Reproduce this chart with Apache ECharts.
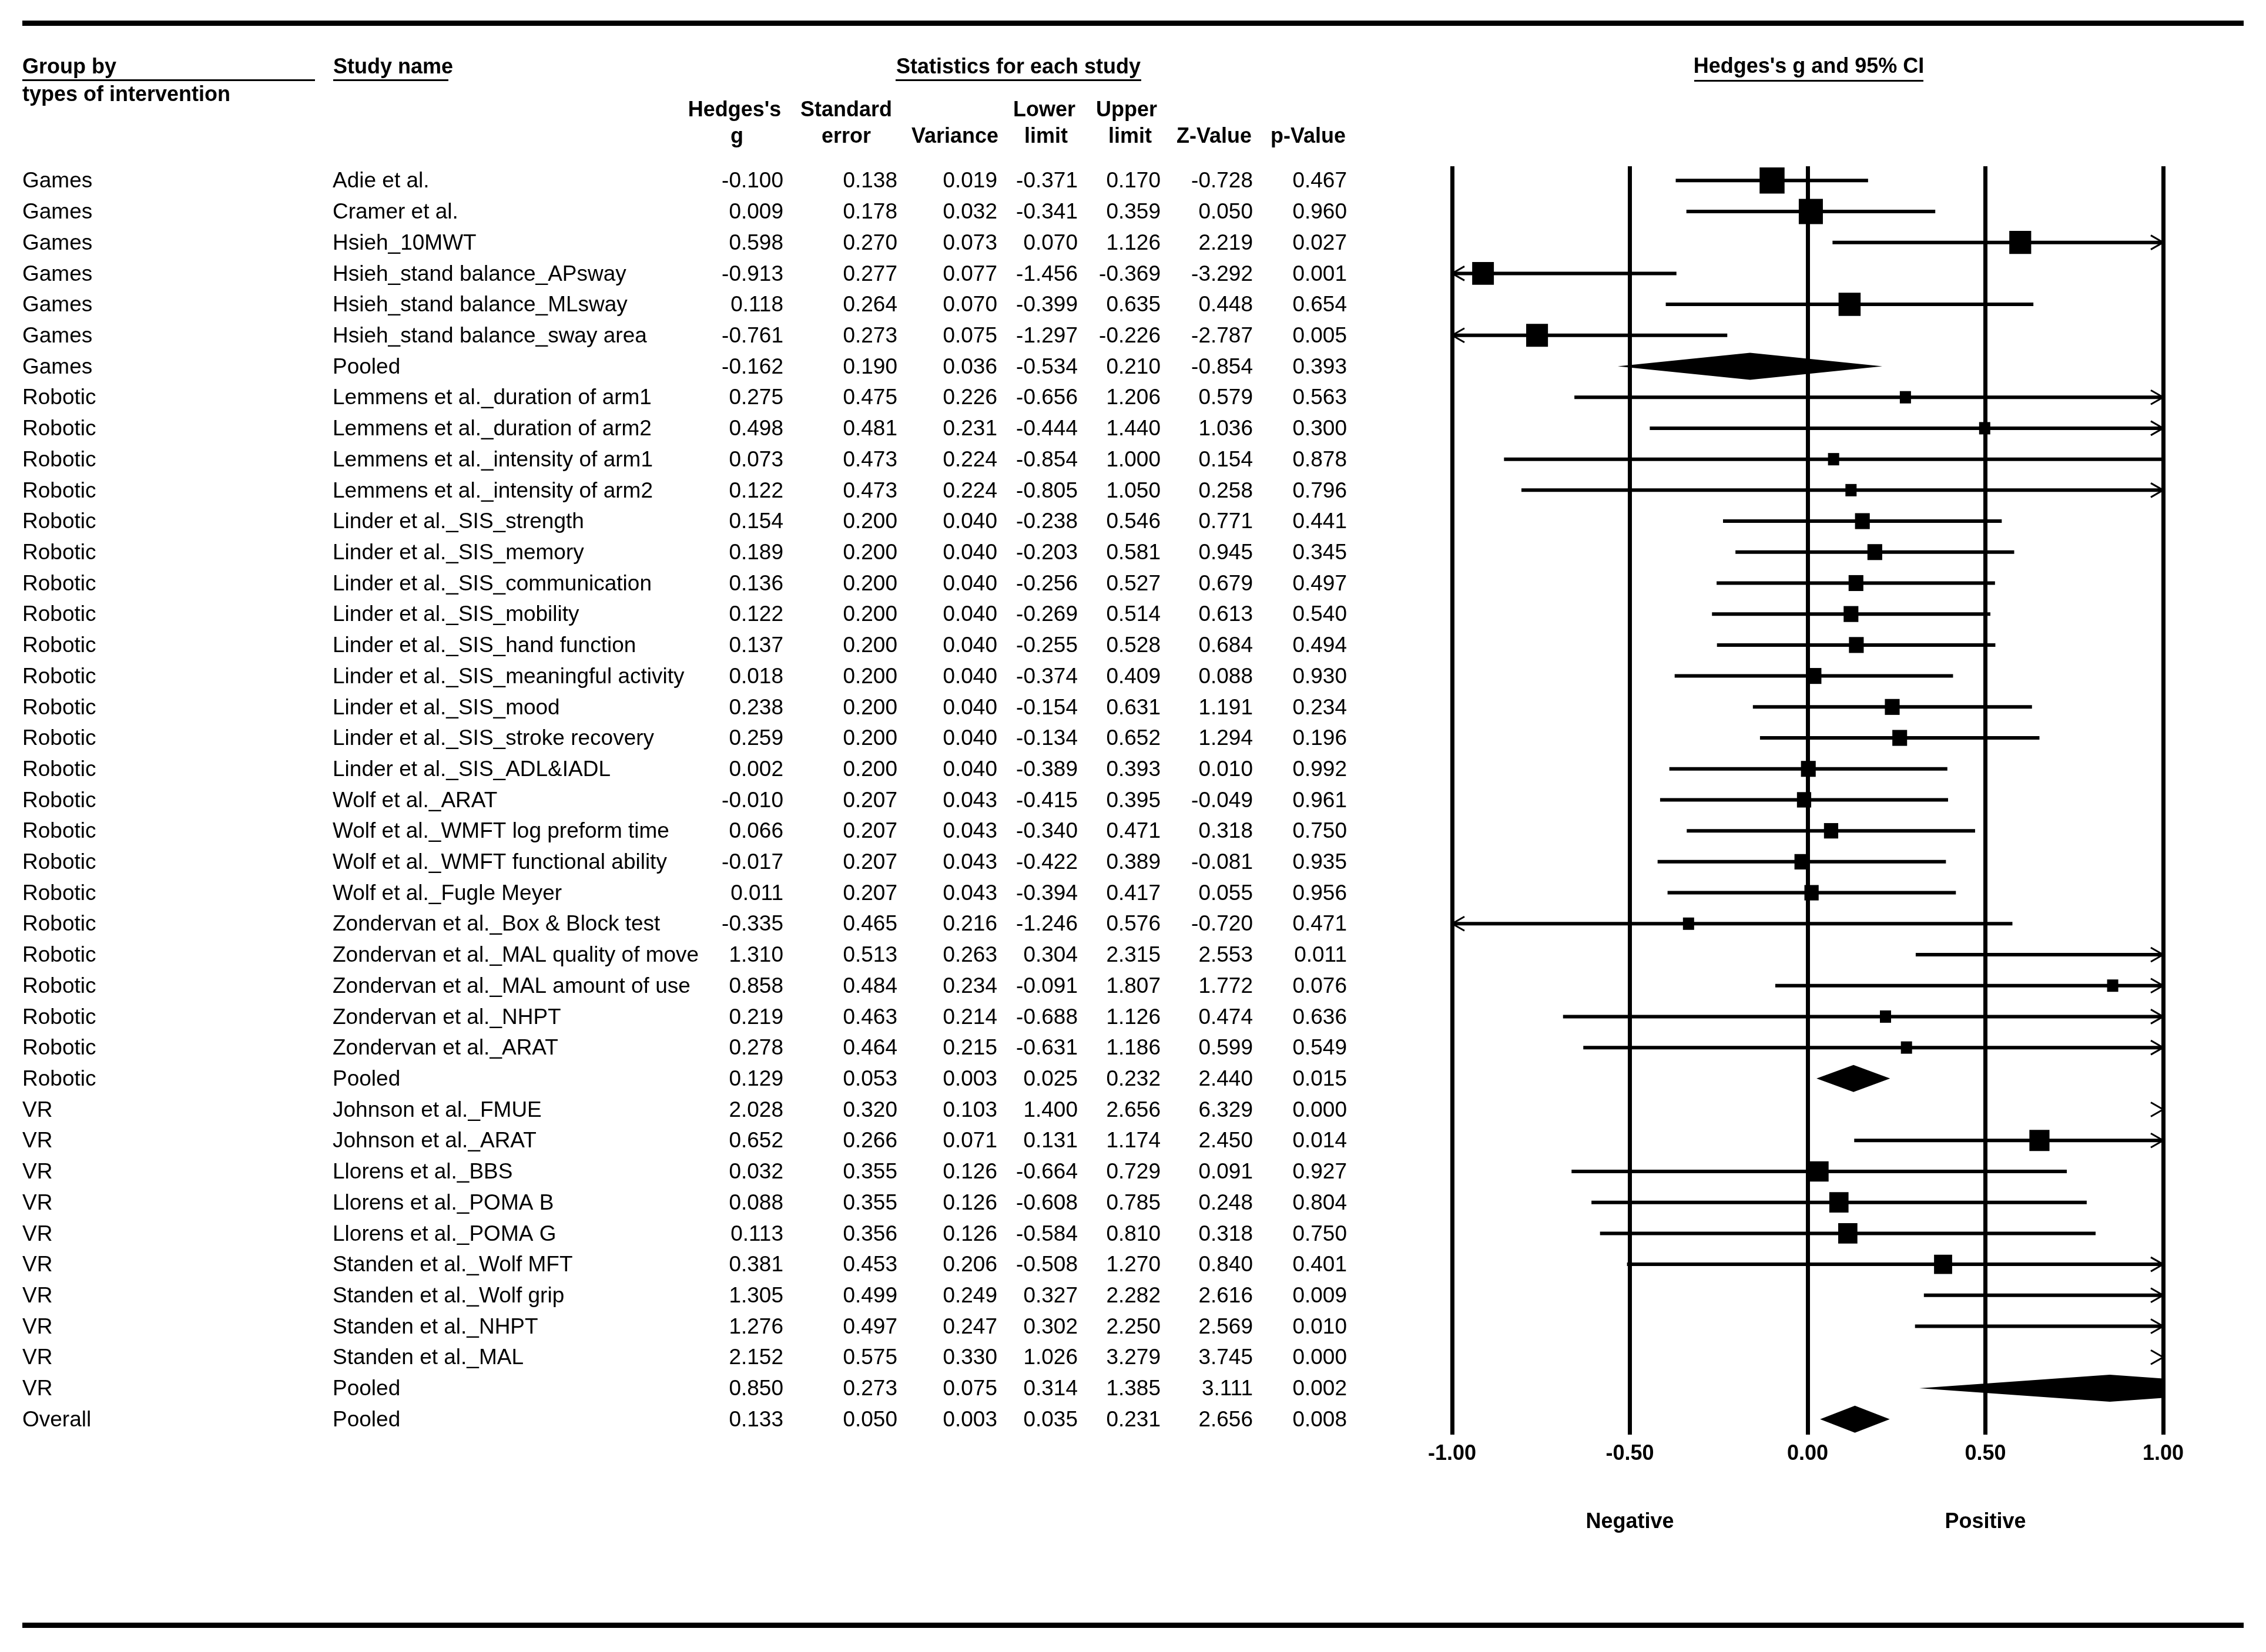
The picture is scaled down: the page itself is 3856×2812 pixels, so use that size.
<!DOCTYPE html>
<html><head><meta charset="utf-8">
<script src="https://cdn.jsdelivr.net/npm/echarts@6/dist/echarts.min.js"></script>
<style>html,body{margin:0;padding:0;background:#fff}#c{width:3856px;height:2812px}</style>
</head><body><div id="c"></div>
<script>
// ---------------- DATA ----------------
const groups = [
  'Games','Games','Games','Games','Games','Games','Games',
  'Robotic','Robotic','Robotic','Robotic','Robotic','Robotic','Robotic','Robotic','Robotic','Robotic','Robotic','Robotic','Robotic',
  'Robotic','Robotic','Robotic','Robotic','Robotic','Robotic','Robotic','Robotic','Robotic','Robotic',
  'VR','VR','VR','VR','VR','VR','VR','VR','VR','VR',
  'Overall'
];
const studies = [
  'Adie et al.','Cramer et al.','Hsieh_10MWT','Hsieh_stand balance_APsway','Hsieh_stand balance_MLsway','Hsieh_stand balance_sway area','Pooled',
  'Lemmens et al._duration of arm1','Lemmens et al._duration of arm2','Lemmens et al._intensity of arm1','Lemmens et al._intensity of arm2',
  'Linder et al._SIS_strength','Linder et al._SIS_memory','Linder et al._SIS_communication','Linder et al._SIS_mobility','Linder et al._SIS_hand function','Linder et al._SIS_meaningful activity','Linder et al._SIS_mood','Linder et al._SIS_stroke recovery','Linder et al._SIS_ADL&IADL',
  'Wolf et al._ARAT','Wolf et al._WMFT log preform time','Wolf et al._WMFT functional ability','Wolf et al._Fugle Meyer',
  'Zondervan et al._Box & Block test','Zondervan et al._MAL quality of move','Zondervan et al._MAL amount of use','Zondervan et al._NHPT','Zondervan et al._ARAT','Pooled',
  'Johnson et al._FMUE','Johnson et al._ARAT','Llorens et al._BBS','Llorens et al._POMA B','Llorens et al._POMA G','Standen et al._Wolf MFT','Standen et al._Wolf grip','Standen et al._NHPT','Standen et al._MAL','Pooled',
  'Pooled'
];
const hedgesG = [
  -0.100, 0.009, 0.598, -0.913, 0.118, -0.761, -0.162,
  0.275, 0.498, 0.073, 0.122, 0.154, 0.189, 0.136, 0.122, 0.137, 0.018, 0.238, 0.259, 0.002,
  -0.010, 0.066, -0.017, 0.011, -0.335, 1.310, 0.858, 0.219, 0.278, 0.129,
  2.028, 0.652, 0.032, 0.088, 0.113, 0.381, 1.305, 1.276, 2.152, 0.850,
  0.133
];
const stdErr = [
  0.138, 0.178, 0.270, 0.277, 0.264, 0.273, 0.190,
  0.475, 0.481, 0.473, 0.473, 0.200, 0.200, 0.200, 0.200, 0.200, 0.200, 0.200, 0.200, 0.200,
  0.207, 0.207, 0.207, 0.207, 0.465, 0.513, 0.484, 0.463, 0.464, 0.053,
  0.320, 0.266, 0.355, 0.355, 0.356, 0.453, 0.499, 0.497, 0.575, 0.273,
  0.050
];
const variance = [
  0.019, 0.032, 0.073, 0.077, 0.070, 0.075, 0.036,
  0.226, 0.231, 0.224, 0.224, 0.040, 0.040, 0.040, 0.040, 0.040, 0.040, 0.040, 0.040, 0.040,
  0.043, 0.043, 0.043, 0.043, 0.216, 0.263, 0.234, 0.214, 0.215, 0.003,
  0.103, 0.071, 0.126, 0.126, 0.126, 0.206, 0.249, 0.247, 0.330, 0.075,
  0.003
];
const lowerLimit = [
  -0.371, -0.341, 0.070, -1.456, -0.399, -1.297, -0.534,
  -0.656, -0.444, -0.854, -0.805, -0.238, -0.203, -0.256, -0.269, -0.255, -0.374, -0.154, -0.134, -0.389,
  -0.415, -0.340, -0.422, -0.394, -1.246, 0.304, -0.091, -0.688, -0.631, 0.025,
  1.400, 0.131, -0.664, -0.608, -0.584, -0.508, 0.327, 0.302, 1.026, 0.314,
  0.035
];
const upperLimit = [
  0.170, 0.359, 1.126, -0.369, 0.635, -0.226, 0.210,
  1.206, 1.440, 1.000, 1.050, 0.546, 0.581, 0.527, 0.514, 0.528, 0.409, 0.631, 0.652, 0.393,
  0.395, 0.471, 0.389, 0.417, 0.576, 2.315, 1.807, 1.126, 1.186, 0.232,
  2.656, 1.174, 0.729, 0.785, 0.810, 1.270, 2.282, 2.250, 3.279, 1.385,
  0.231
];
const zValue = [
  -0.728, 0.050, 2.219, -3.292, 0.448, -2.787, -0.854,
  0.579, 1.036, 0.154, 0.258, 0.771, 0.945, 0.679, 0.613, 0.684, 0.088, 1.191, 1.294, 0.010,
  -0.049, 0.318, -0.081, 0.055, -0.720, 2.553, 1.772, 0.474, 0.599, 2.440,
  6.329, 2.450, 0.091, 0.248, 0.318, 0.840, 2.616, 2.569, 3.745, 3.111,
  2.656
];
const pValue = [
  0.467, 0.960, 0.027, 0.001, 0.654, 0.005, 0.393,
  0.563, 0.300, 0.878, 0.796, 0.441, 0.345, 0.497, 0.540, 0.494, 0.930, 0.234, 0.196, 0.992,
  0.961, 0.750, 0.935, 0.956, 0.471, 0.011, 0.076, 0.636, 0.549, 0.015,
  0.000, 0.014, 0.927, 0.804, 0.750, 0.401, 0.009, 0.010, 0.000, 0.002,
  0.008
];
const axisTicks = [-1, -0.5, 0, 0.5, 1];
const directionLabels = [[-0.5, 'Negative'], [0.5, 'Positive']];

// ---------------- derived: random-effects weight share within subgroup ----------------
const N = studies.length;
const share = new Array(N).fill(0);
(function () {
  const sum = a => a.reduce((s, v) => s + v, 0);
  const byGroup = {};
  for (let i = 0; i < N; i++) {
    if (studies[i] === 'Pooled') continue;
    (byGroup[groups[i]] = byGroup[groups[i]] || []).push(i);
  }
  Object.values(byGroup).forEach(idx => {
    const w = idx.map(i => 1 / variance[i]);
    const sw = sum(w);
    const mean = sum(idx.map((i, k) => w[k] * hedgesG[i])) / sw;
    const Q = sum(idx.map((i, k) => w[k] * Math.pow(hedgesG[i] - mean, 2)));
    const C = sw - sum(w.map(x => x * x)) / sw;
    const tau2 = Math.max(0, (Q - (idx.length - 1)) / C);
    const wr = idx.map(i => 1 / (variance[i] + tau2));
    const swr = sum(wr);
    idx.forEach((i, k) => { share[i] = wr[k] / swr; });
  });
})();

// ---------------- chart ----------------
const FONT = "'Liberation Sans', Arial, sans-serif";
const chart = echarts.init(document.getElementById('c'), null, { renderer: 'canvas' });

const GRID = { left: 2471, right: 175, top: 283, bottom: 370 };
const colRight = { g: 1333, se: 1527, v: 1697, ll: 1834, ul: 1975, z: 2132, p: 2292 };
const colGroup = 38, colStudy = 566;
const TEXT_DY = 2;

function clipX(pts, xc, keepLess) {
  const out = [];
  for (let k = 0; k < pts.length; k++) {
    const P = pts[k], Q = pts[(k + 1) % pts.length];
    const inP = keepLess ? P[0] <= xc : P[0] >= xc;
    const inQ = keepLess ? Q[0] <= xc : Q[0] >= xc;
    if (inP) out.push(P);
    if (inP !== inQ) {
      const t = (xc - P[0]) / (Q[0] - P[0]);
      out.push([xc, P[1] + t * (Q[1] - P[1])]);
    }
  }
  return out;
}

const forestData = [];
for (let i = 0; i < N; i++) {
  forestData.push([hedgesG[i], i, lowerLimit[i], upperLimit[i], share[i], studies[i] === 'Pooled' ? 1 : 0]);
}
const tableData = [];
for (let i = 0; i < N; i++) tableData.push([0, i]);

function txt(t, x, y, align, bold, size) {
  return { type: 'text', style: { text: t, x: x, y: y, align: align, verticalAlign: 'middle',
    fontSize: size || 37, fontFamily: FONT, fontWeight: bold ? 'bold' : 'normal', fill: '#000' } };
}

const headerY1 = 115, colHdr1 = 188, colHdr2 = 233;
const hdrCenters = { g: 1250, se: 1440, v: 1625, ll: 1777, ul: 1917, z: 2066, p: 2226 };

const graphics = [
  { type: 'rect', shape: { x: 38, y: 35, width: 3780, height: 9 }, style: { fill: '#000' } },
  { type: 'rect', shape: { x: 38, y: 2762, width: 3780, height: 9 }, style: { fill: '#000' } },
  txt('Group by', 38, headerY1, 'left', true, 36),
  { type: 'rect', shape: { x: 38, y: 135, width: 498, height: 3 }, style: { fill: '#000' } },
  txt('types of intervention', 38, 162, 'left', true, 36),
  txt('Study name', 567, headerY1, 'left', true, 36),
  { type: 'rect', shape: { x: 567, y: 135, width: 196, height: 3 }, style: { fill: '#000' } },
  txt('Statistics for each study', 1733, headerY1, 'center', true, 36),
  { type: 'rect', shape: { x: 1524, y: 135, width: 418, height: 3 }, style: { fill: '#000' } },
  txt("Hedges's g and 95% CI", 3078, headerY1 - 1, 'center', true, 36),
  { type: 'rect', shape: { x: 2883, y: 136, width: 390, height: 3 }, style: { fill: '#000' } },
  txt("Hedges's", hdrCenters.g, colHdr1, 'center', true, 36),
  txt('g', hdrCenters.g + 4, colHdr2, 'center', true, 36),
  txt('Standard', hdrCenters.se, colHdr1, 'center', true, 36),
  txt('error', hdrCenters.se, colHdr2, 'center', true, 36),
  txt('Variance', hdrCenters.v, colHdr2, 'center', true, 36),
  txt('Lower', hdrCenters.ll, colHdr1, 'center', true, 36),
  txt('limit', hdrCenters.ll + 3, colHdr2, 'center', true, 36),
  txt('Upper', hdrCenters.ul, colHdr1, 'center', true, 36),
  txt('limit', hdrCenters.ul + 6, colHdr2, 'center', true, 36),
  txt('Z-Value', hdrCenters.z, colHdr2, 'center', true, 36),
  txt('p-Value', hdrCenters.p, colHdr2, 'center', true, 36)
];

const option = {
  animation: false,
  backgroundColor: '#fff',
  grid: GRID,
  xAxis: {
    type: 'value', min: axisTicks[0], max: axisTicks[axisTicks.length - 1],
    interval: axisTicks[1] - axisTicks[0],
    axisLine: { show: false }, axisTick: { show: false },
    axisLabel: { show: true, showMinLabel: true, showMaxLabel: true, margin: 15,
      fontSize: 36, fontWeight: 'bold', fontFamily: FONT, color: '#000',
      formatter: v => v.toFixed(2) },
    splitLine: { show: true, lineStyle: { color: '#000', width: 7 } }
  },
  yAxis: { type: 'value', inverse: true, min: -0.46, max: 40.5, show: false, splitLine: { show: false } },
  graphic: graphics,
  series: [
    {
      type: 'custom', name: 'forest', coordinateSystem: 'cartesian2d', clip: false, silent: true,
      encode: { x: 0, y: 1 },
      data: forestData,
      renderItem: function (params, api) {
        const gv = api.value(0), i = api.value(1), lo = api.value(2), hi = api.value(3);
        const sh = api.value(4), pooled = api.value(5);
        const y = api.coord([0, i])[1];
        const X = v => api.coord([v, i])[0];
        const xL = X(-1), xR = X(1);
        const ch = [];
        if (pooled) {
          const half = 23;
          let pts = [[X(lo), y], [X(gv), y - half], [X(hi), y], [X(gv), y + half]];
          pts = clipX(clipX(pts, xR, true), xL, false);
          if (pts.length > 2) ch.push({ type: 'polygon', shape: { points: pts }, style: { fill: '#000' } });
        } else {
          const a = Math.max(lo, -1), b = Math.min(hi, 1);
          if (a < b) ch.push({ type: 'line', shape: { x1: X(a), y1: y, x2: X(b), y2: y }, style: { stroke: '#000', lineWidth: 6 } });
          if (gv >= -1 && gv <= 1) {
            const s = Math.max(19, 95 * Math.sqrt(sh));
            ch.push({ type: 'rect', shape: { x: X(gv) - s / 2, y: y - s / 2 - 1, width: s, height: s + 2 }, style: { fill: '#000' } });
          }
        }
        if (hi > 1) ch.push({ type: 'polyline', shape: { points: [[xR - 21, y - 12], [xR, y], [xR - 21, y + 12]] }, style: { stroke: '#000', lineWidth: 3, fill: null } });
        if (lo < -1) ch.push({ type: 'polyline', shape: { points: [[xL + 21, y - 12], [xL, y], [xL + 21, y + 12]] }, style: { stroke: '#000', lineWidth: 3, fill: null } });
        return { type: 'group', children: ch };
      }
    },
    {
      type: 'custom', name: 'table', coordinateSystem: 'cartesian2d', clip: false, silent: true,
      encode: { x: 0, y: 1 },
      data: tableData,
      renderItem: function (params, api) {
        const i = api.value(1);
        const y = api.coord([0, i])[1] + TEXT_DY;
        const f = v => v.toFixed(3);
        return { type: 'group', children: [
          txt(groups[i], colGroup, y, 'left'),
          txt(studies[i], colStudy, y, 'left'),
          txt(f(hedgesG[i]), colRight.g, y, 'right'),
          txt(f(stdErr[i]), colRight.se, y, 'right'),
          txt(f(variance[i]), colRight.v, y, 'right'),
          txt(f(lowerLimit[i]), colRight.ll, y, 'right'),
          txt(f(upperLimit[i]), colRight.ul, y, 'right'),
          txt(f(zValue[i]), colRight.z, y, 'right'),
          txt(f(pValue[i]), colRight.p, y, 'right')
        ] };
      }
    },
    {
      type: 'custom', name: 'direction', coordinateSystem: 'cartesian2d', clip: false, silent: true,
      encode: { x: 0, y: 1 },
      data: directionLabels.map(d => [d[0], N - 1, d[1]]),
      renderItem: function (params, api) {
        const p = api.coord([api.value(0), api.value(1)]);
        return txt(directionLabels[params.dataIndex][1], p[0], p[1] + 175, 'center', true, 36);
      }
    }
  ]
};
chart.setOption(option);
</script></body></html>
